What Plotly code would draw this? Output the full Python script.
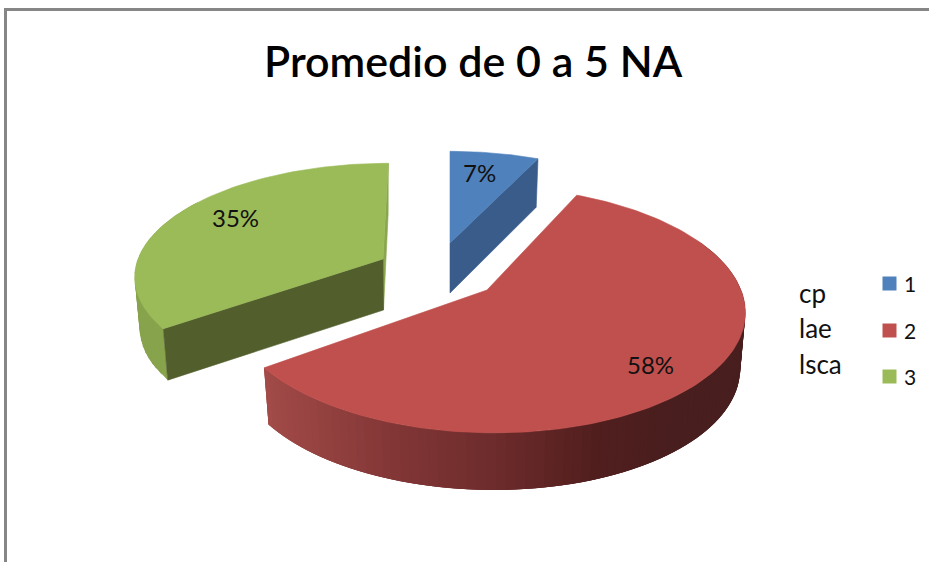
import numpy as np
import plotly.graph_objects as go

title = "Promedio de 0 a 5 NA"
categories = ["1", "2", "3"]
values = [7, 58, 35]
side_names = ["cp", "lae", "lsca"]
top_colors = ["#4f81bd", "#c0504d", "#9bbb59"]
FONT = "Lato, Carlito, sans-serif"

# projection of each exploded slice (ax, ay = slice apex on the page)
proj = {
    "1": dict(ax=450, ay=243, cx=450, a=244, b=110, k=0.2, skew=0, depth=50),
    "2": dict(ax=487, ay=290, cx=487, a=254, b=120, k=0.16, skew=-6, depth=56),
    "3": dict(ax=383, ay=259, cx=383, a=245, b=109, k=0.139, skew=6, depth=51),
}


def pts(p, theta, bottom=False):
    t = np.radians(np.atleast_1d(theta))
    X, Y = np.sin(t), np.cos(t)
    w = 1 + p["k"] * Y
    x = (p["a"] * X + p["skew"] * Y) / w
    y = -p["b"] * Y / w
    if bottom:
        x, y = x * 0.98, y * 0.98 + p["depth"] * w ** -0.4
    return p["cx"] + x, p["ay"] + y


def poly(fig, x, y, color, lw=0.6):
    fig.add_trace(go.Scatter(
        x=list(x) + [x[0]], y=list(y) + [y[0]], mode="lines", fill="toself",
        fillcolor=color, line=dict(color=color, width=lw),
        hoverinfo="skip", showlegend=False))


def rim(fig, p, t0, t1, color_at, n):
    # each band overlaps the next one so no seams show between bands
    edges = np.linspace(t0, t1, n + 1)
    step = edges[1] - edges[0]
    for u, v in zip(edges[:-1], edges[1:]):
        v2 = min(v + 2 * step, t1)
        ax, ay = pts(p, [u, v2])
        bx, by = pts(p, [v2, u], bottom=True)
        poly(fig, np.r_[ax, bx], np.r_[ay, by], color_at(pts(p, [u])[0][0]), lw=0)


def ramp(stops):
    xs = [s[0] for s in stops]
    def f(x):
        c = [np.interp(x, xs, [s[1][i] for s in stops]) for i in range(3)]
        return "rgb(%d,%d,%d)" % tuple(c)
    return f


edges = np.cumsum([0] + values) * 360.0 / sum(values)
spans = dict(zip(categories, zip(edges[:-1], edges[1:])))

fig = go.Figure()

# slice 3 (green)
p = proj["3"]
t0, t1 = spans["3"]
rim(fig, p, t0, t0 + 70, lambda x: "#87a34c", 24)
ax, ay = pts(p, [t1]); bx, by = pts(p, [t1], bottom=True)
poly(fig, [ax[0], p["ax"], p["ax"] + 0.5, bx[0]], [ay[0], p["ay"], p["ay"] + p["depth"], by[0]], "#8aa64e")
ax, ay = pts(p, [t0]); bx, by = pts(p, [t0], bottom=True)
poly(fig, [p["ax"], ax[0], bx[0], p["ax"] + 0.5], [p["ay"], ay[0], by[0], p["ay"] + p["depth"]], "#525f2d")
th = np.linspace(t0, t1, 90); x, y = pts(p, th)
poly(fig, np.r_[p["ax"], x], np.r_[p["ay"], y], top_colors[2])

# slice 1 (blue)
p = proj["1"]
t0, t1 = spans["1"]
ax, ay = pts(p, [t1]); bx, by = pts(p, [t1], bottom=True)
poly(fig, [p["ax"], ax[0], bx[0], p["ax"]], [p["ay"], ay[0], by[0], p["ay"] + p["depth"]], "#3a5c8a")
th = np.linspace(t0, t1, 30); x, y = pts(p, th)
poly(fig, np.r_[p["ax"], x], np.r_[p["ay"], y], top_colors[0])

# slice 2 (red)
p = proj["2"]
t0, t1 = spans["2"]
red_ramp = ramp([
    (265, (163, 76, 73)), (400, (130, 54, 54)), (500, (110, 44, 44)),
    (600, (82, 31, 30)), (680, (73, 30, 30)), (745, (72, 30, 30))])
rim(fig, p, t0 + 40, t1, red_ramp, 90)
th = np.linspace(t0, t1, 160); x, y = pts(p, th)
poly(fig, np.r_[p["ax"], x], np.r_[p["ay"], y], top_colors[1])

# legend keys and labels
key_y = [283.5, 330.5, 376.5]
fig.add_trace(go.Scatter(
    x=[889.5] * 3, y=key_y, mode="markers",
    marker=dict(symbol="square", size=14, color=top_colors),
    hoverinfo="skip", showlegend=False, cliponaxis=False))

notes = [
    dict(x=473, y=60, text=title, font=dict(family=FONT, size=43, color="#000", weight=600)),
    dict(x=479, y=172, text=f"{values[0]}%", font=dict(family=FONT, size=24, color="#111")),
    dict(x=650, y=364, text=f"{values[1]}%", font=dict(family=FONT, size=24, color="#111")),
    dict(x=235, y=217, text=f"{values[2]}%", font=dict(family=FONT, size=24, color="#111")),
]
for name, yy in zip(side_names, [293, 328, 364]):
    notes.append(dict(x=797, y=yy, text=name, xanchor="left", font=dict(family=FONT, size=26, color="#111")))
for name, yy in zip(categories, key_y):
    notes.append(dict(x=902, y=yy, text=name, xanchor="left", font=dict(family=FONT, size=21, color="#111")))
for n in notes:
    n.update(xref="x", yref="y", showarrow=False)
    n.setdefault("xanchor", "center")
    n["yanchor"] = "middle"

frame = dict(type="line", xref="x", yref="y", line=dict(color="#868686", width=3))
fig.update_layout(
    width=929, height=562, margin=dict(l=0, r=0, t=0, b=0),
    paper_bgcolor="white", plot_bgcolor="white", showlegend=False,
    xaxis=dict(range=[0, 929], visible=False, fixedrange=True),
    yaxis=dict(range=[562, 0], visible=False, fixedrange=True),
    annotations=notes,
    shapes=[dict(frame, x0=5.5, x1=929, y0=9.5, y1=9.5),
            dict(frame, x0=5.5, x1=5.5, y0=8, y1=562)],
)
fig.write_html("out.html", config=dict(displayModeBar=False),
               post_script="document.body.style.margin='0';document.documentElement.style.overflow='hidden';")
